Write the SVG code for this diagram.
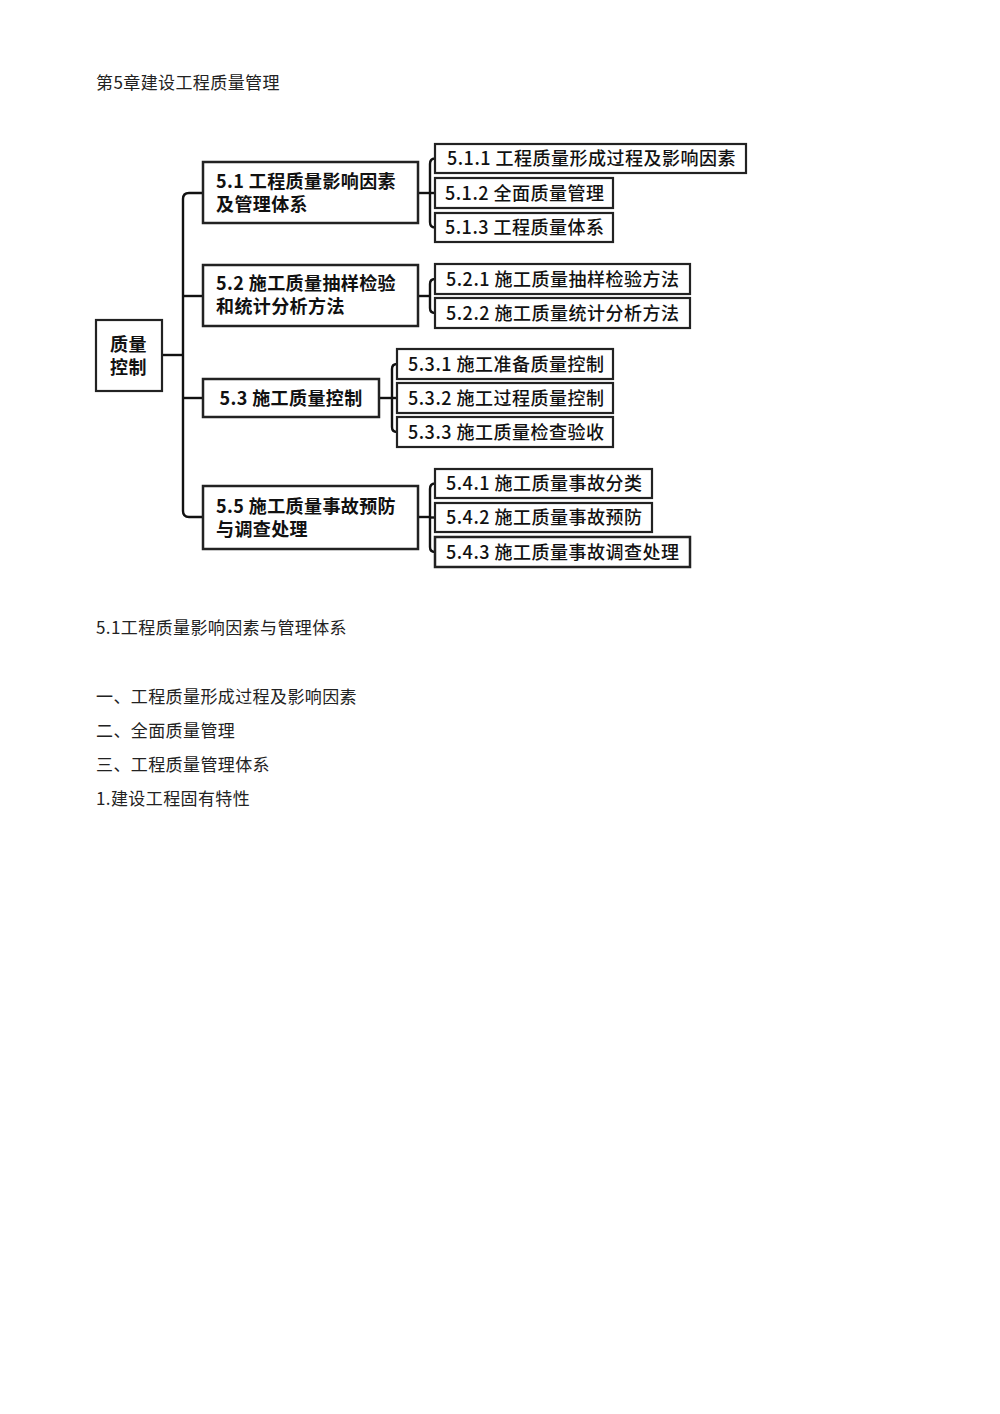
<svg xmlns="http://www.w3.org/2000/svg" width="1000" height="1414" viewBox="0 0 1000 1414">
<style>
.bg{fill:#fff}
.box{fill:#fff;stroke:#222;stroke-width:2.2}
.box1{fill:#fff;stroke:#222;stroke-width:2.5}
.t1{font-family:"Noto Sans CJK SC","Liberation Sans",sans-serif;font-size:18px;font-weight:700;fill:#111;letter-spacing:0.4px}
.t2{font-family:"Noto Sans CJK SC","Liberation Sans",sans-serif;font-size:18px;font-weight:500;fill:#111;letter-spacing:0.5px}
.doc{font-family:"Noto Sans CJK SC","Liberation Serif",serif;font-size:17px;font-weight:400;fill:#222;letter-spacing:0.4px}
.ln{fill:none;stroke:#111;stroke-width:2.4;stroke-linejoin:round}
</style>
<rect class="bg" x="0" y="0" width="1000" height="1414"/>
<text class="doc" x="96" y="89">第5章建设工程质量管理</text>

<g id="connectors">
<path class="ln" d="M162,355 H183"/>
<path class="ln" d="M203,193 H189 Q183,193 183,199 V511 Q183,517 189,517 H203"/>
<path class="ln" d="M183,296 H203"/>
<path class="ln" d="M183,398 H203"/>
<path class="ln" d="M418,193 H430"/>
<path class="ln" d="M435,158.5 Q430,158.5 430,164 V222 Q430,227.5 435,227.5"/>
<path class="ln" d="M430,193 H435"/>
<path class="ln" d="M418,296 H430"/>
<path class="ln" d="M435,279 Q430,279 430,284 V308 Q430,313 435,313"/>
<path class="ln" d="M379,398 H392"/>
<path class="ln" d="M397,364 Q392,364 392,369 V427 Q392,432 397,432"/>
<path class="ln" d="M392,398 H397"/>
<path class="ln" d="M418,517 H430"/>
<path class="ln" d="M435,483.5 Q430,483.5 430,489 V547 Q430,552 435,552"/>
<path class="ln" d="M430,517.5 H435"/>
</g>

<g id="root">
<rect class="box" x="96" y="320" width="66" height="71"/>
<text class="t1" x="110" y="351">质量</text>
<text class="t1" x="110" y="374">控制</text>
</g>

<g id="n51">
<rect class="box1" x="203" y="162" width="215" height="61"/>
<text class="t1" x="216" y="188">5.1 工程质量影响因素</text>
<text class="t1" x="216" y="211">及管理体系</text>
</g>
<g id="n52">
<rect class="box1" x="203" y="265" width="215" height="61"/>
<text class="t1" x="216" y="290">5.2 施工质量抽样检验</text>
<text class="t1" x="216" y="313">和统计分析方法</text>
</g>
<g id="n53">
<rect class="box1" x="203" y="379" width="176" height="38"/>
<text class="t1" x="291" y="405" text-anchor="middle">5.3 施工质量控制</text>
</g>
<g id="n55">
<rect class="box1" x="203" y="486" width="215" height="63"/>
<text class="t1" x="216" y="513">5.5 施工质量事故预防</text>
<text class="t1" x="216" y="536">与调查处理</text>
</g>

<g id="n511">
<rect class="box" x="435" y="144" width="311" height="29"/>
<text class="t2" x="447" y="165">5.1.1 工程质量形成过程及影响因素</text>
</g>
<g id="n512">
<rect class="box" x="435" y="178" width="178" height="30"/>
<text class="t2" x="445" y="199.5">5.1.2 全面质量管理</text>
</g>
<g id="n513">
<rect class="box" x="435" y="213" width="178" height="29"/>
<text class="t2" x="445" y="234">5.1.3 工程质量体系</text>
</g>
<g id="n521">
<rect class="box" x="435" y="264" width="255" height="30"/>
<text class="t2" x="446" y="285.5">5.2.1 施工质量抽样检验方法</text>
</g>
<g id="n522">
<rect class="box" x="435" y="298" width="255" height="30"/>
<text class="t2" x="446" y="319.5">5.2.2 施工质量统计分析方法</text>
</g>
<g id="n531">
<rect class="box" x="397" y="349" width="216" height="30"/>
<text class="t2" x="408" y="370.5">5.3.1 施工准备质量控制</text>
</g>
<g id="n532">
<rect class="box" x="397" y="383" width="216" height="30"/>
<text class="t2" x="408" y="404.5">5.3.2 施工过程质量控制</text>
</g>
<g id="n533">
<rect class="box" x="397" y="417" width="216" height="30"/>
<text class="t2" x="408" y="438.5">5.3.3 施工质量检查验收</text>
</g>
<g id="n541">
<rect class="box" x="435" y="469" width="217" height="29"/>
<text class="t2" x="446" y="490">5.4.1 施工质量事故分类</text>
</g>
<g id="n542">
<rect class="box" x="435" y="503" width="217" height="29"/>
<text class="t2" x="446" y="524">5.4.2 施工质量事故预防</text>
</g>
<g id="n543">
<rect class="box1" x="435" y="537" width="255" height="30"/>
<text class="t2" x="446" y="558.5">5.4.3 施工质量事故调查处理</text>
</g>

<text class="doc" x="96" y="634">5.1工程质量影响因素与管理体系</text>
<text class="doc" x="96" y="703">一、工程质量形成过程及影响因素</text>
<text class="doc" x="96" y="737">二、全面质量管理</text>
<text class="doc" x="96" y="771">三、工程质量管理体系</text>
<text class="doc" x="96" y="805">1.建设工程固有特性</text>
</svg>
